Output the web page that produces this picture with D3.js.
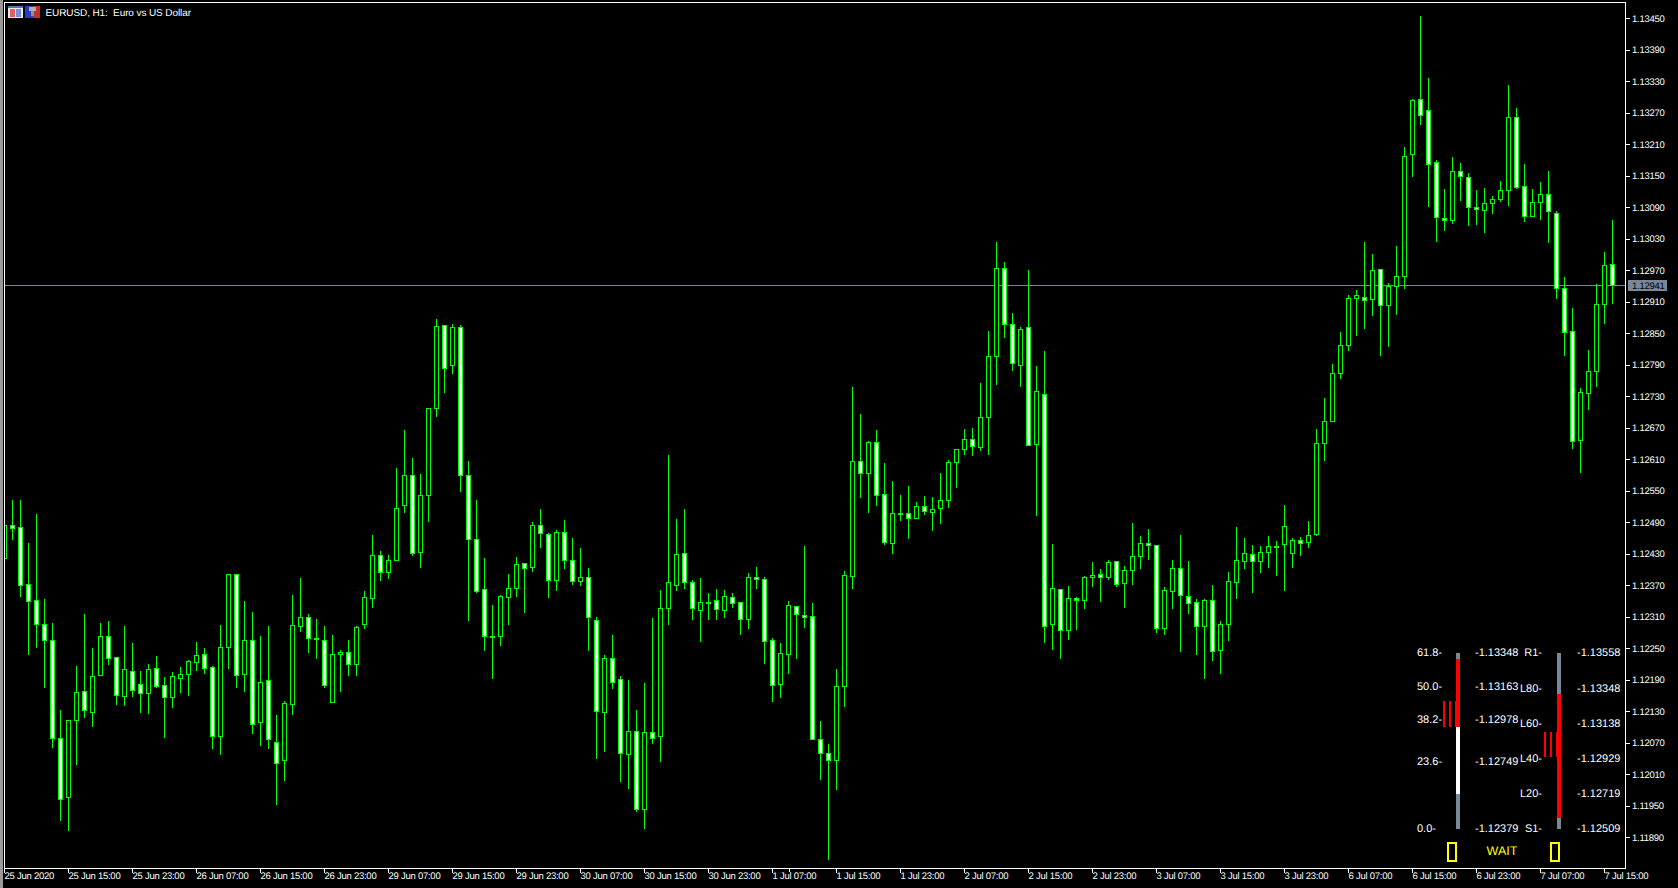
<!DOCTYPE html>
<html><head><meta charset="utf-8">
<script src="https://cdn.jsdelivr.net/npm/d3@7/dist/d3.min.js"></script>
<style>
html,body{margin:0;padding:0;background:#000;overflow:hidden}
svg{display:block}
text{font-family:"Liberation Sans",Arial,sans-serif;text-rendering:geometricPrecision}
</style></head><body>
<script>
// Prices are stored in 1/100000 above 1.00000 (12484 = 1.12484)
const symbolTitle = "EURUSD, H1:  Euro vs US Dollar";
const opens = [
12422,12484,12481,12372,12342,12296,12265,12079,11966,12113,
12168,12128,12199,12273,12233,12159,12206,12182,12164,12212,
12180,12157,12193,12201,12223,12239,12214,12082,12252,12391,
12201,12265,12109,12189,12071,12037,12143,12292,12309,12269,
12265,12147,12239,12243,12220,12296,12345,12427,12395,12418,
12523,12580,12433,12542,12708,12866,12790,12862,12580,12458,
12363,12273,12273,12348,12365,12412,12405,12485,12468,12380,
12471,12418,12378,12386,12304,12128,12231,12191,12048,12092,
11943,12090,12082,12327,12370,12431,12376,12323,12336,12342,
12323,12348,12338,12306,12386,12382,12266,12181,12239,12330,
12313,12311,12077,12050,12037,12177,12387,12606,12583,12643,
12543,12450,12505,12507,12498,12521,12509,12517,12532,12604,
12629,12648,12633,12690,12806,12974,12867,12789,12862,12639,
12734,12296,12362,12284,12345,12342,12385,12391,12385,12416,
12374,12399,12425,12450,12446,12288,12359,12402,12349,12338,
12292,12342,12247,12295,12375,12416,12429,12416,12433,12443,
12448,12431,12456,12452,12467,12640,12682,12774,12827,12917,
12919,12915,12972,12903,12940,12959,13191,13296,13275,13176,
13069,13065,13159,13147,13090,13084,13098,13105,13122,13261,
13130,13073,13100,13115,13079,12936,12854,12646,12736,12778,
12905,12981];
const highs = [
12484,12533,12534,12451,12508,12346,12300,12133,12113,12218,
12316,12251,12300,12304,12235,12293,12262,12209,12222,12237,
12197,12206,12216,12229,12264,12252,12218,12296,12391,12391,
12342,12321,12274,12293,12125,12151,12352,12386,12317,12308,
12293,12277,12248,12267,12294,12361,12468,12437,12429,12594,
12668,12614,12584,12708,12878,12868,12870,12868,12609,12534,
12423,12333,12353,12393,12426,12414,12492,12517,12471,12477,
12495,12462,12443,12405,12311,12239,12277,12199,12191,12134,
12185,12310,12363,12619,12497,12517,12382,12386,12357,12365,
12363,12357,12338,12395,12407,12388,12271,12262,12342,12330,
12447,12338,12112,12069,12211,12399,12750,12698,12646,12667,
12604,12570,12543,12561,12530,12542,12540,12585,12610,12629,
12669,12671,12757,12856,13025,12987,12890,12863,12972,12789,
12818,12450,12364,12370,12349,12389,12415,12402,12420,12416,
12408,12490,12465,12479,12448,12368,12420,12468,12418,12345,
12345,12372,12304,12396,12483,12462,12449,12446,12465,12456,
12525,12461,12463,12494,12669,12729,12793,12853,12924,12933,
13026,13002,12974,12947,13018,13207,13298,13456,13338,13181,
13126,13188,13176,13157,13124,13128,13113,13141,13324,13281,
13174,13126,13140,13161,13084,12959,12900,12747,12820,12945,
13006,13067];
const lows = [
12422,12457,12349,12238,12251,12175,12061,11922,11903,12029,
12118,12101,12199,12219,12143,12141,12158,12128,12126,12175,
12080,12137,12166,12160,12209,12202,12059,12049,12211,12175,
12169,12089,12065,12059,11952,11998,12124,12282,12242,12230,
12175,12147,12169,12198,12198,12288,12329,12379,12383,12418,
12509,12428,12404,12492,12692,12737,12774,12549,12303,12356,
12246,12193,12255,12296,12349,12318,12396,12442,12347,12360,
12402,12372,12370,12246,12040,12053,12173,11996,11983,11939,
11908,12069,12034,12296,12360,12364,12305,12263,12305,12305,
12309,12329,12276,12288,12364,12221,12150,12156,12203,12231,
12290,12077,12001,11848,11981,12140,12364,12537,12509,12522,
12449,12430,12493,12459,12498,12505,12474,12489,12518,12556,
12619,12617,12627,12619,12752,12842,12779,12749,12637,12503,
12261,12249,12230,12268,12286,12326,12369,12339,12382,12368,
12329,12371,12402,12419,12280,12276,12326,12244,12316,12238,
12192,12228,12203,12266,12346,12403,12356,12395,12405,12390,
12361,12405,12428,12443,12465,12609,12682,12765,12818,12847,
12860,12885,12809,12826,12887,12936,13150,13249,13091,13025,
13047,13059,13103,13055,13057,13042,13078,13101,13093,13126,
13063,13072,13067,13023,12917,12809,12630,12586,12705,12750,
12870,12907];
const closes = [
12484,12479,12370,12340,12296,12265,12079,11962,12113,12166,
12132,12197,12273,12231,12161,12210,12170,12164,12210,12178,
12157,12197,12201,12225,12237,12212,12082,12252,12391,12199,
12265,12105,12185,12077,12031,12145,12294,12309,12269,12267,
12180,12239,12243,12220,12290,12347,12427,12395,12418,12517,
12580,12431,12542,12708,12864,12784,12862,12580,12458,12358,
12273,12271,12349,12365,12410,12403,12485,12469,12380,12471,
12418,12378,12386,12309,12130,12231,12185,12050,12092,11943,
12090,12079,12326,12376,12429,12376,12327,12338,12338,12325,
12349,12336,12306,12386,12382,12264,12180,12241,12332,12315,
12309,12077,12050,12037,12178,12389,12606,12583,12643,12542,
12452,12507,12507,12498,12521,12511,12515,12532,12604,12629,
12648,12635,12690,12806,12974,12867,12793,12858,12637,12740,
12292,12364,12284,12345,12342,12385,12389,12385,12414,12372,
12399,12425,12450,12446,12288,12361,12402,12351,12336,12292,
12342,12244,12295,12377,12418,12431,12416,12433,12444,12444,
12482,12456,12450,12465,12641,12682,12774,12827,12917,12922,
12913,12970,12903,12940,12959,13187,13294,13265,13172,13071,
13065,13159,13149,13090,13086,13098,13105,13122,13261,13128,
13073,13100,13115,13082,12936,12852,12644,12738,12778,12905,
12980,12941];
const priceTicks = [1.13450,1.13390,1.13330,1.13270,1.13210,1.13150,1.13090,1.13030,1.12970,1.12910,
1.12850,1.12790,1.12730,1.12670,1.12610,1.12550,1.12490,1.12430,1.12370,1.12310,1.12250,1.12190,
1.12130,1.12070,1.12010,1.11950,1.11890];
const timeLabels = ["25 Jun 2020","25 Jun 15:00","25 Jun 23:00","26 Jun 07:00","26 Jun 15:00","26 Jun 23:00",
"29 Jun 07:00","29 Jun 15:00","29 Jun 23:00","30 Jun 07:00","30 Jun 15:00","30 Jun 23:00",
"1 Jul 07:00","1 Jul 15:00","1 Jul 23:00","2 Jul 07:00","2 Jul 15:00","2 Jul 23:00",
"3 Jul 07:00","3 Jul 15:00","3 Jul 23:00","6 Jul 07:00","6 Jul 15:00","6 Jul 23:00","7 Jul 07:00","7 Jul 15:00"];
const barsPerLabel = 8;
const lastPrice = 1.12941;
// Indicator panel values
const gaugeHigh = 1.13315, gaugeLow = 1.12572, gaugeOpen = 1.13085;
const fibTags = ["61.8-","50.0-","38.2-","23.6-","0.0-"];
const fibValues = [1.13348,1.13163,1.12978,1.12749,1.12379];
const pivotTags = ["R1-","L80-","L60-","L40-","L20-","S1-"];
const pivotValues = [1.13558,1.13348,1.13138,1.12929,1.12719,1.12509];
const signalText = "WAIT";

const W=1678,H=888, GREEN="#00ff00", SLATE="#778899", RED="#ff0000", YEL="#ffff00";
const svg=d3.select("body").append("svg").attr("width",W).attr("height",H).style("background","#000");
const px=v=>Math.floor(v)+.5;
const price=v=>1+v/100000;

const x=d3.scaleLinear().domain([0,opens.length-1]).range([4.5,1612.5]);
const y=d3.scaleLinear().domain([1.13450,1.11890]).range([18.5,837.5]);

svg.append("defs").append("clipPath").attr("id","plot").append("rect").attr("x",5).attr("y",3).attr("width",1620).attr("height",865);

// frame
svg.append("rect").attr("x",0).attr("y",0).attr("width",3).attr("height",H).attr("fill","#9a9a9a");
const frame=svg.append("g").attr("stroke","#fff").attr("shape-rendering","crispEdges");
[[4.5,2,4.5,869],[4,2.5,1626,2.5],[1625.5,2,1625.5,869],[4,868.5,1626,868.5]].forEach(l=>
  frame.append("line").attr("x1",l[0]).attr("y1",l[1]).attr("x2",l[2]).attr("y2",l[3]));

// last price line
svg.append("line").attr("x1",5).attr("x2",1625).attr("y1",px(y(lastPrice))).attr("y2",px(y(lastPrice)))
  .attr("stroke",SLATE).attr("shape-rendering","crispEdges");

// candles
const plot=svg.append("g").attr("clip-path","url(#plot)").attr("shape-rendering","crispEdges");
const candles=plot.selectAll("g").data(opens.map((o,i)=>({i,o:price(o),h:price(highs[i]),l:price(lows[i]),c:price(closes[i])}))).join("g");
candles.append("line").attr("x1",d=>x(d.i)).attr("x2",d=>x(d.i))
  .attr("y1",d=>px(y(d.h))).attr("y2",d=>px(y(d.l))+.5).attr("stroke",GREEN);
candles.append("rect").attr("x",d=>x(d.i)-2).attr("width",4)
  .attr("y",d=>px(y(Math.max(d.o,d.c))))
  .attr("height",d=>Math.max(0,px(y(Math.min(d.o,d.c)))-px(y(Math.max(d.o,d.c)))))
  .attr("fill",d=>d.c<d.o?"#fff":"#000").attr("stroke",GREEN);

// axes
const axisFont='9.5px "Liberation Sans",Arial,sans-serif';
const yAxis=d3.axisRight(y).tickValues(priceTicks).tickFormat(d3.format(".5f")).tickSize(4).tickPadding(2).offset(0);
const gy=svg.append("g").attr("transform","translate(1625.5,0)").call(yAxis);
const tickIdx=timeLabels.map((_,i)=>i*barsPerLabel);
const xAxis=d3.axisBottom(x).tickValues(tickIdx).tickFormat(d=>timeLabels[d/barsPerLabel]).tickSize(4).tickPadding(1).offset(0);
const gx=svg.append("g").attr("transform","translate(0,868.5)").call(xAxis);
[gy,gx].forEach(g=>{
  g.select(".domain").remove();
  g.selectAll("line").attr("stroke","#fff").attr("shape-rendering","crispEdges");
  g.selectAll("text").attr("fill","#fff").style("font",axisFont).style("letter-spacing","-0.25px");
});
gy.selectAll("text").attr("x",6.5);
gx.selectAll("text").attr("text-anchor","start").attr("x",0).attr("y",4).attr("dy",".71em");
// small stray scale mark seen beside the 1 Jul 07:00 label
svg.append("line").attr("x1",789.5).attr("x2",789.5).attr("y1",869).attr("y2",872).attr("stroke","#fff").attr("shape-rendering","crispEdges");

// last price tag
const tag=svg.append("g");
tag.append("rect").attr("x",1628).attr("y",280).attr("width",39).attr("height",11).attr("fill",SLATE).attr("shape-rendering","crispEdges");
tag.append("text").attr("x",1632).attr("y",y(lastPrice)).attr("dy",".35em").attr("fill","#000").style("font",axisFont).style("letter-spacing","-0.25px").text(d3.format(".5f")(lastPrice));

// title + icons
const ic=svg.append("g").attr("shape-rendering","crispEdges");
ic.append("rect").attr("x",8).attr("y",6).attr("width",15).attr("height",12).attr("fill","#e8e8f0");
ic.append("rect").attr("x",8).attr("y",6).attr("width",15).attr("height",2).attr("fill","#5a6fb0");
ic.append("rect").attr("x",10).attr("y",9).attr("width",5).attr("height",8).attr("fill","#e06060");
ic.append("rect").attr("x",16).attr("y",9).attr("width",5).attr("height",8).attr("fill","#7090d8");
ic.append("rect").attr("x",25).attr("y",6).attr("width",8).attr("height",12).attr("fill","#2a3ac8");
ic.append("rect").attr("x",33).attr("y",6).attr("width",7).attr("height",12).attr("fill","#c03030");
ic.append("rect").attr("x",29).attr("y",7).attr("width",7).attr("height",4).attr("fill","#b0b0b0");
ic.append("rect").attr("x",31).attr("y",11).attr("width",3).attr("height",5).attr("fill","#909090");
svg.append("text").attr("x",45.5).attr("y",16).attr("fill","#fff").style("font",'10px "Liberation Sans",Arial,sans-serif').style("letter-spacing","-0.1px").style("white-space","pre").text(symbolTitle);

// indicator panel
const panelFont='11px "Liberation Sans",Arial,sans-serif';
const gL=d3.scaleLinear().domain([fibValues[0],fibValues[fibValues.length-1]]).range([653,829]);
const gR=d3.scaleLinear().domain([pivotValues[0],pivotValues[pivotValues.length-1]]).range([653,829]);
const panel=svg.append("g");
const seg=(g,scale,a,b,bx,bw,c)=>g.append("rect").attr("x",bx).attr("width",bw).attr("y",Math.round(scale(a))).attr("height",Math.round(scale(b))-Math.round(scale(a))).attr("fill",c).attr("shape-rendering","crispEdges");
seg(panel,gL,fibValues[0],gaugeHigh,1456,4,SLATE);
seg(panel,gL,gaugeHigh,lastPrice,1456,4,RED);
seg(panel,gL,lastPrice,gaugeLow,1456,4,"#fff");
seg(panel,gL,gaugeLow,fibValues[4],1456,4,SLATE);
seg(panel,gR,pivotValues[0],gaugeHigh,1557,4,SLATE);
seg(panel,gR,gaugeHigh,gaugeLow,1557,4,RED);
seg(panel,gR,gaugeLow,pivotValues[5],1557,4,SLATE);
[1443,1449,1455].forEach(b=>seg(panel,gL,gaugeOpen,lastPrice,b,2,RED));
seg(panel,gL,gaugeOpen,lastPrice,1455,3,RED);
[1544,1550,1556].forEach(b=>seg(panel,gR,gaugeOpen,lastPrice,b,2,RED));
seg(panel,gR,gaugeOpen,lastPrice,1556,3,RED);
const label=(tx,ty,t,anchor)=>panel.append("text").attr("x",tx).attr("y",ty).attr("dy",".35em").attr("fill","#fff").attr("text-anchor",anchor||"start").style("font",panelFont).text(t);
fibValues.forEach((v,i)=>{label(1417,gL(v)-.8,fibTags[i]);label(1475,gL(v)-.8,"-"+d3.format(".5f")(v));});
pivotValues.forEach((v,i)=>{label(1542,gR(v)-.5,pivotTags[i],"end");label(1577,gR(v)-.5,"-"+d3.format(".5f")(v));});
[1448,1551].forEach(bx=>panel.append("rect").attr("x",bx).attr("y",843).attr("width",8).attr("height",18).attr("fill","none").attr("stroke",YEL).attr("stroke-width",2).attr("shape-rendering","crispEdges"));
panel.append("text").attr("x",1502).attr("y",851).attr("dy",".35em").attr("text-anchor","middle").attr("fill",YEL).style("font",'12.5px "Liberation Sans",Arial,sans-serif').text(signalText);
</script>
</body></html>
